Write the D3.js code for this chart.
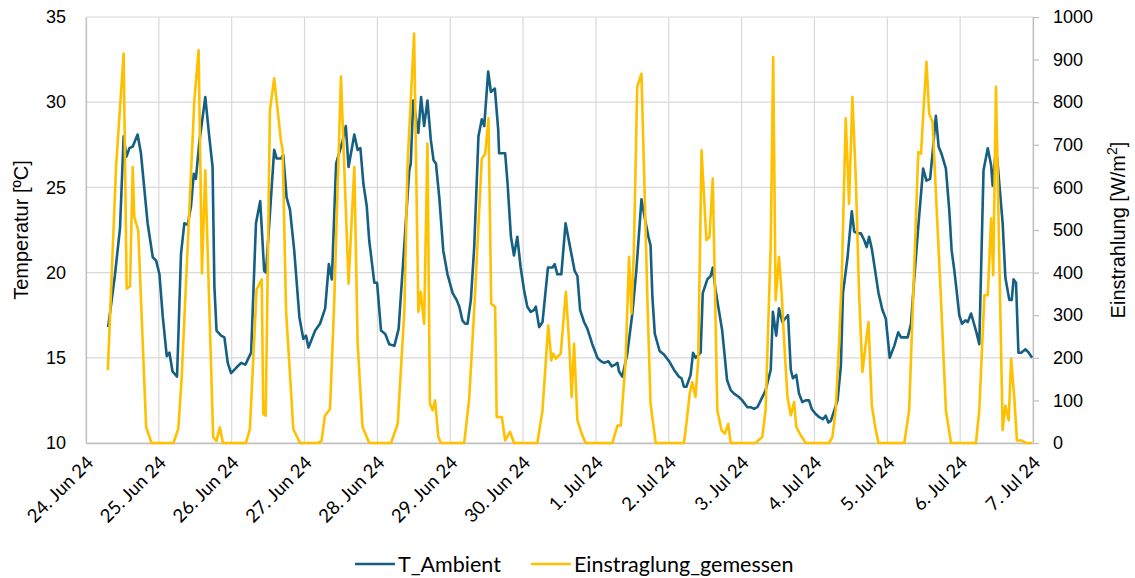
<!DOCTYPE html>
<html>
<head>
<meta charset="utf-8">
<script src="https://cdn.jsdelivr.net/npm/d3@7"></script>
<style>
  html, body { margin: 0; padding: 0; background: #fff; }
  svg { display: block; }
</style>
</head>
<body>
<svg id="chart" width="1135" height="578"></svg>
<script>
// Measurement period start (hour offsets below are counted from here)
const startDate = new Date(2024, 5, 24, 0, 0);

// Ambient temperature [°C] as [hours since start, value]
const tAmbient = [
  [7.3,16.8],[9.5,19.8],[11.2,22.6],[12.4,28.0],[13.3,26.8],[14.3,27.3],[15.4,27.4],[17.0,28.1],[18.1,27.0],
  [20.3,22.9],[22.0,20.9],[23.1,20.7],[24.2,19.9],[25.3,17.4],[26.6,15.1],[27.5,15.3],[28.5,14.2],[30.0,13.9],
  [31.3,21.1],[32.4,22.9],[33.5,22.8],[34.6,23.9],[35.5,25.8],[36.2,25.5],[37.3,27.6],[39.3,30.3],[40.6,28.0],
  [41.7,26.2],[42.3,19.2],[43.0,16.6],[44.5,16.3],[45.6,16.2],[46.7,14.7],[47.8,14.1],[49.4,14.4],[51.1,14.7],
  [52.5,14.6],[54.4,15.3],[56.0,22.9],[57.4,24.2],[58.7,20.1],[59.3,20.0],[62.0,27.2],[62.8,26.7],[64.2,26.7],
  [65.0,26.9],[66.1,24.4],[67.2,23.7],[68.6,21.3],[70.3,17.4],[71.6,16.1],[72.5,16.3],[73.3,15.6],[75.5,16.6],
  [77.1,17.0],[78.8,17.9],[80.0,20.5],[81.0,19.6],[82.4,26.4],[84.5,27.7],[85.6,28.6],[86.5,26.2],[88.4,28.1],
  [89.5,27.2],[90.4,27.3],[91.4,25.2],[92.5,23.9],[93.3,21.9],[95.0,19.4],[95.9,19.4],[97.2,16.6],[98.6,16.4],
  [99.9,15.8],[101.6,15.7],[103.0,16.7],[104.9,21.7],[106.5,26.0],[107.0,26.4],[107.8,30.1],[109.5,28.2],
  [110.4,30.3],[111.4,28.6],[112.5,30.1],[113.6,27.8],[114.5,26.6],[115.3,26.4],[116.4,24.4],[117.7,21.3],
  [119.1,19.9],[120.8,18.8],[122.1,18.4],[123.0,18.0],[124.0,17.2],[124.9,17.0],[125.7,17.0],[126.8,18.4],
  [127.9,21.5],[129.3,28.0],[130.4,29.0],[131.2,28.6],[132.5,31.8],[133.4,30.6],[134.7,30.8],[135.8,28.4],
  [136.1,27.0],[138.1,27.0],[138.9,25.2],[140.0,22.1],[141.0,21.0],[142.1,22.1],[143.2,20.3],[144.3,19.0],
  [145.4,18.0],[146.5,17.7],[147.6,17.8],[148.2,18.0],[149.3,16.8],[150.4,17.1],[152.2,20.3],[153.7,20.3],
  [154.4,20.5],[155.3,19.9],[156.6,19.9],[158.0,22.9],[159.7,21.3],[161.0,20.1],[161.9,19.8],[162.8,17.8],
  [164.1,17.1],[165.2,16.7],[166.8,15.8],[168.5,15.0],[169.6,14.8],[170.7,14.7],[172.1,14.8],[173.2,14.5],
  [174.3,14.6],[175.1,14.7],[175.6,14.2],[176.7,13.9],[178.3,15.2],[180.0,17.6],[181.3,20.1],[183.0,24.3],
  [184.2,23.1],[185.3,22.1],[186.0,21.6],[186.6,18.6],[187.4,16.4],[189.0,15.4],[190.4,15.2],[192.1,14.8],
  [193.7,14.3],[195.3,13.9],[196.2,13.8],[197.0,13.3],[197.8,13.3],[199.2,14.0],[200.0,15.3],[200.8,15.0],
  [202.5,15.3],[203.2,18.8],[204.7,19.6],[205.8,19.8],[206.5,20.3],[207.4,19.0],[208.5,17.8],[209.6,16.6],
  [211.2,13.7],[212.4,13.1],[213.5,12.9],[215.1,12.7],[216.2,12.5],[217.9,12.1],[219.0,12.1],[220.1,12.0],
  [221.2,12.1],[222.3,12.5],[223.4,12.9],[223.9,13.1],[225.6,14.3],[226.3,17.7],[227.4,16.3],[228.3,17.9],
  [229.4,17.1],[231.3,17.5],[232.2,14.3],[232.9,13.8],[234.0,14.0],[234.9,12.9],[236.0,12.4],[237.1,12.5],
  [238.2,12.5],[239.1,12.0],[240.4,11.7],[241.7,11.5],[242.8,11.4],[243.7,11.6],[244.6,11.2],[245.4,11.3],
  [246.5,11.9],[247.6,12.5],[248.7,14.5],[249.4,18.8],[250.9,20.9],[252.3,23.6],[253.1,22.4],[254.2,22.3],
  [255.3,22.3],[256.4,21.9],[257.2,21.5],[258.0,22.1],[258.9,21.4],[260.0,20.1],[261.1,18.8],[262.4,17.8],
  [263.5,17.3],[264.8,15.0],[266.3,15.7],[267.6,16.5],[268.5,16.2],[269.8,16.2],[270.7,16.2],[271.8,17.0],
  [272.9,19.7],[274.3,22.9],[275.8,26.1],[276.9,25.4],[278.1,25.5],[278.9,27.0],[280.0,29.2],[280.9,27.4],
  [282.0,26.9],[283.3,26.1],[284.4,23.7],[285.2,21.3],[286.1,20.1],[286.8,19.0],[287.7,17.5],[288.6,17.0],
  [289.7,17.2],[290.5,17.1],[291.6,17.6],[292.4,17.1],[293.2,16.6],[294.3,15.8],[295.7,26.0],[297.1,27.3],
  [298.2,26.3],[298.7,25.1],[299.8,27.3],[300.3,26.5],[302.0,22.9],[302.9,19.7],[304.2,18.4],[305.0,18.4],
  [305.6,19.6],[306.4,19.4],[307.2,15.3],[308.1,15.3],[309.5,15.5],[310.6,15.3],[311.7,15.0]
];

// Measured irradiance [W/m²] as [hours since start, value]
const einstrahlung = [
  [7.2,171],[9.9,648],[12.4,914],[13.4,362],[14.5,368],[15.4,648],[15.9,531],[17.2,500],[19.8,38],[21.6,0],
  [28.8,0],[30.4,33],[31.5,150],[35.7,805],[37.1,922],[38.2,398],[39.3,640],[41.9,14],[43.0,5],[44.1,37],[45.1,0],
  [52.7,0],[54.0,33],[56.2,360],[57.9,384],[58.4,68],[59.2,64],[60.6,781],[62.0,856],[64.2,711],[64.8,687],
  [65.9,312],[68.3,33],[70.5,0],
  [76.3,0],[77.6,5],[78.7,64],[80.4,80],[81.8,335],[84.0,860],[86.5,374],[88.4,648],[89.5,233],[91.1,38],[93.3,0],
  [100.5,0],[102.7,45],[104.9,312],[105.9,648],[108.1,961],[109.5,308],[110.3,355],[111.4,280],[112.5,703],
  [113.3,92],[114.2,77],[115.0,100],[116.1,14],[116.9,0],
  [124.6,0],[126.2,100],[127.9,312],[130.4,668],[131.5,678],[132.6,762],[133.5,327],[134.8,319],[135.3,61],
  [137.0,61],[138.1,6],[139.7,26],[141.0,0],
  [148.7,0],[150.4,77],[152.3,276],[153.3,194],[153.9,210],[154.8,198],[156.4,210],[158.1,355],[159.2,233],
  [160.0,108],[160.8,233],[161.9,53],[163.3,22],[164.6,0],
  [173.4,0],[175.1,41],[176.2,41],[177.8,194],[178.9,437],[179.7,304],[180.5,452],[181.6,836],[183.0,867],
  [184.2,546],[185.0,327],[186.0,92],[187.7,0],
  [197.0,0],[197.8,45],[198.9,116],[199.7,143],[200.8,108],[201.7,194],[202.8,687],[204.4,476],[205.4,484],
  [206.5,621],[208.0,77],[209.4,30],[210.5,22],[211.6,45],[212.4,0],
  [220.6,0],[222.8,14],[223.9,77],[225.6,468],[226.4,906],[227.2,335],[228.3,437],[229.2,351],[230.0,241],
  [231.1,108],[232.2,65],[233.3,96],[234.0,38],[235.5,18],[237.1,0],
  [244.8,0],[245.9,14],[247.0,77],[248.1,233],[249.0,390],[250.3,762],[251.4,562],[252.5,812],[253.6,625],
  [254.7,351],[255.8,167],[256.9,233],[257.8,284],[258.9,88],[260.0,38],[261.1,0],
  [269.6,0],[271.2,77],[274.2,683],[275.1,679],[275.8,766],[276.9,895],[277.8,773],[278.9,754],[281.7,335],
  [283.3,77],[285.0,0],
  [293.2,0],[294.3,77],[296.0,347],[297.1,347],[298.2,527],[298.9,394],[299.8,836],[302.0,30],[302.9,88],
  [304.0,53],[304.8,198],[305.9,100],[306.7,6],[308.1,6],[309.7,0],[311.7,0]
];

// Axis ranges and tick values
const tempTicks = [10, 15, 20, 25, 30, 35];
const irrTicks = [0, 100, 200, 300, 400, 500, 600, 700, 800, 900, 1000];
const dayCount = 13;

// Legend entries
const seriesNames = ["T_Ambient", "Einstraglung_gemessen"];
const seriesColors = ["#156082", "#FFC000"];

const svg = d3.select("#chart");
const plot = { left: 86, right: 1033, top: 17, bottom: 443 };

const toDate = h => new Date(startDate.getTime() + h * 3600e3);
const endDate = d3.timeDay.offset(startDate, dayCount);

const x = d3.scaleTime().domain([startDate, endDate]).range([plot.left, plot.right]);
const yT = d3.scaleLinear().domain([10, 35]).range([plot.bottom, plot.top]);
const yI = d3.scaleLinear().domain([0, 1000]).range([plot.bottom, plot.top]);

const numFont = "'Liberation Sans', Arial, sans-serif";
const labelFont = "Lato, 'Noto Sans', sans-serif";
const gridColor = "#d9d9d9";

// Horizontal gridlines (temperature scale)
svg.append("g")
  .selectAll("line")
  .data(tempTicks)
  .join("line")
  .attr("x1", plot.left).attr("x2", plot.right)
  .attr("y1", d => yT(d)).attr("y2", d => yT(d))
  .attr("stroke", gridColor).attr("stroke-width", 1.2);

// Vertical gridlines, one per day
const days = d3.timeDay.range(startDate, d3.timeDay.offset(endDate, 1));
svg.append("g")
  .selectAll("line")
  .data(days)
  .join("line")
  .attr("x1", d => x(d)).attr("x2", d => x(d))
  .attr("y1", plot.top).attr("y2", plot.bottom)
  .attr("stroke", gridColor).attr("stroke-width", 1.2);

// Left axis (temperature)
const axisL = svg.append("g")
  .attr("transform", `translate(${plot.left},0)`)
  .call(d3.axisLeft(yT).tickValues(tempTicks).tickSize(0).tickPadding(20));
axisL.select(".domain").attr("stroke", "#bfbfbf").attr("stroke-width", 1.2);
axisL.selectAll("text").attr("font-family", numFont).attr("font-size", 18).attr("fill", "#000");

// Right axis (irradiance)
const axisR = svg.append("g")
  .attr("transform", `translate(${plot.right},0)`)
  .call(d3.axisRight(yI).tickValues(irrTicks).tickFormat(d3.format("d")).tickSize(6).tickPadding(14));
axisR.select(".domain").attr("stroke", "#bfbfbf").attr("stroke-width", 1.2);
axisR.selectAll("line").attr("stroke", "#bfbfbf").attr("stroke-width", 1.2);
axisR.selectAll("text").attr("font-family", numFont).attr("font-size", 18).attr("fill", "#000");

// Bottom axis (dates), labels rotated 45°
const fmt = d3.timeFormat("%-d. %b %y");
const axisB = svg.append("g")
  .attr("transform", `translate(0,${plot.bottom})`)
  .call(d3.axisBottom(x).tickValues(days).tickFormat(fmt).tickSize(0));
axisB.select(".domain").attr("stroke", "#bfbfbf").attr("stroke-width", 1.5);
axisB.selectAll("text")
  .attr("font-family", labelFont).attr("font-size", 18.5).attr("fill", "#000")
  .attr("text-anchor", "end")
  .attr("transform", "translate(8,21) rotate(-45)")
  .attr("dy", 0).attr("y", 0).attr("x", 0);

// Axis titles
svg.append("text")
  .attr("transform", `translate(28,${(plot.top + plot.bottom) / 2}) rotate(-90)`)
  .attr("text-anchor", "middle")
  .attr("font-family", numFont).attr("font-size", 20).attr("fill", "#000")
  .text("Temperatur [ºC]");

const rTitle = svg.append("text")
  .attr("transform", `translate(1125,${(plot.top + plot.bottom) / 2}) rotate(-90)`)
  .attr("text-anchor", "middle")
  .attr("font-family", numFont).attr("font-size", 20).attr("fill", "#000");
rTitle.append("tspan").text("Einstrahlung [W/m");
rTitle.append("tspan").attr("dy", -8).attr("font-size", 14).text("2");
rTitle.append("tspan").attr("dy", 8).text("]");

// Data lines
const lineT = d3.line().x(d => x(toDate(d[0]))).y(d => yT(d[1]));
const lineI = d3.line().x(d => x(toDate(d[0]))).y(d => yI(d[1]));

svg.append("path")
  .datum(tAmbient)
  .attr("d", lineT)
  .attr("fill", "none")
  .attr("stroke", seriesColors[0])
  .attr("stroke-width", 2.6)
  .attr("stroke-linejoin", "round");

svg.append("path")
  .datum(einstrahlung)
  .attr("d", lineI)
  .attr("fill", "none")
  .attr("stroke", seriesColors[1])
  .attr("stroke-width", 2.6)
  .attr("stroke-linejoin", "round");

// Legend
const legend = svg.append("g").attr("transform", "translate(355,564)");
let offset = 0;
seriesNames.forEach((name, i) => {
  const g = legend.append("g").attr("transform", `translate(${offset},0)`);
  g.append("line").attr("x1", 0).attr("x2", 40).attr("y1", 0).attr("y2", 0)
    .attr("stroke", seriesColors[i]).attr("stroke-width", 2.6);
  const t = g.append("text").attr("x", 43).attr("y", 0).attr("dy", "0.35em")
    .attr("font-family", labelFont).attr("font-size", 21.5).attr("fill", "#000")
    .text(name);
  offset += 43 + t.node().getComputedTextLength() + 30;
});
</script>
</body>
</html>
